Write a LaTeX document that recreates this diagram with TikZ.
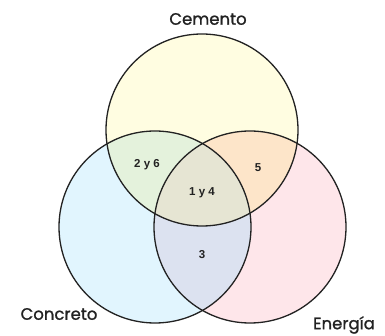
\documentclass[tikz,border=0pt]{standalone}
\usepackage{fontspec}
\setmainfont{Poppins}
\newfontfamily\labfont[FakeBold=1.2]{Poppins}
\newfontfamily\numfont{Liberation Sans}
\definecolor{cyel}{HTML}{FFFDE1}
\definecolor{cblu}{HTML}{E1F5FE}
\definecolor{cpnk}{HTML}{FEE6EA}
\definecolor{cgrn}{HTML}{E4F2DC}
\definecolor{corg}{HTML}{FDE5C9}
\definecolor{clav}{HTML}{DCE2F0}
\definecolor{cmid}{HTML}{E6E5D3}
\definecolor{ink}{HTML}{222222}
\tikzset{
  setlabel/.style={font=\labfont\fontsize{16.5}{18}\selectfont, text=ink, inner sep=0pt},
  numlabel/.style={font=\numfont\bfseries\fontsize{11.5}{13}\selectfont, text=ink, inner sep=0pt},
  ring/.style={draw=ink, line width=1.3pt}
}
\def\Cpath{(202,130) circle[radius=96pt]}
\def\Lpath{(155,227) circle[radius=96pt]}
\def\Rpath{(250,227) circle[radius=96pt]}
\begin{document}
\begin{tikzpicture}[x=1pt,y=-1pt]
\useasboundingbox (0,0) rectangle (385,336);
\fill[white] (0,0) rectangle (385,336);
\fill[cyel] \Cpath;
\fill[cblu] \Lpath;
\fill[cpnk] \Rpath;
\begin{scope}
  \clip \Cpath;
  \fill[cgrn] \Lpath;
  \fill[corg] \Rpath;
\end{scope}
\begin{scope}
  \clip \Lpath;
  \fill[clav] \Rpath;
\end{scope}
\begin{scope}
  \clip \Cpath;
  \clip \Lpath;
  \fill[cmid] \Rpath;
\end{scope}
\draw[ring] \Cpath;
\draw[ring] \Lpath;
\draw[ring] \Rpath;
\node[setlabel] (cem) at (208,19) {Cemento};
\node[setlabel] (con) at (59,314) {Concreto};
\node[setlabel] (ene) at (344,325) {Energía};
\node[numlabel] (n26) at (147,165) {2 y 6};
\node[numlabel] (n5) at (258,168) {5};
\node[numlabel] (n14) at (202,193) {1 y 4};
\node[numlabel] (n3) at (202,255) {3};
\end{tikzpicture}
\end{document}
